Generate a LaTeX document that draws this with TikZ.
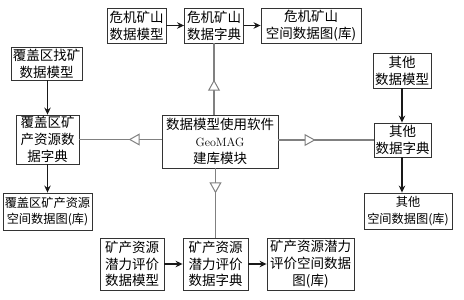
\documentclass[tikz,border=0pt]{standalone}
\usepackage{fontspec}
\newfontfamily\cjk{Noto Sans CJK SC}
\usetikzlibrary{arrows.meta,decorations.markings}
\tikzset{
  box/.style={draw=black!80, line width=0.9pt, inner sep=0pt, align=center,
    font=\cjk\fontsize{13.5}{16.8}\selectfont},
  smallbox/.style={box, font=\cjk\fontsize{12.2}{16.8}\selectfont},
  flow/.style={-{Stealth[length=7pt,width=6.5pt]}, line width=1.1pt, black!90},
  link/.style={draw=black!50, line width=1.5pt, postaction={decorate},
    decoration={markings, mark=at position #1 with
      {\arrow{Triangle[length=11pt,width=12pt,line width=1pt,fill=white,color=black!50]}}}}
}
\begin{document}
\begin{tikzpicture}[x=1pt,y=-1pt]
\useasboundingbox (0,0) rectangle (464,300);
% top row
\node[box, minimum width=59, minimum height=35] (a1) at (136.5,25.5) {危机矿山\\数据模型};
\node[box, minimum width=59, minimum height=35] (a2) at (214,25.5) {危机矿山\\数据字典};
\node[box, minimum width=100, minimum height=35] (a3) at (311,25.5) {危机矿山\\空间数据图(库)};
% left column
\node[box, minimum width=71, minimum height=33] (b1) at (46.5,63.5) {覆盖区找矿\\数据模型};
\node[box, minimum width=63, minimum height=49] (b2) at (47.5,139.5) {覆盖区矿\\产资源数\\据字典};
\node[smallbox, minimum width=89, minimum height=37] (b3) at (47.5,211.5) {覆盖区矿产资源\\空间数据图(库)};
% center
\node[box, minimum width=116, minimum height=53] (c) at (220,141.5)
  {数据模型使用软件\\{\rmfamily\fontsize{12}{16.8}\selectfont GeoMAG}\\建库模块};
% right column
\node[box, minimum width=58, minimum height=35] (d1) at (402,70.5) {其他\\数据模型};
\node[box, minimum width=57, minimum height=34] (d2) at (402.5,140) {其他\\数据字典};
\node[smallbox, minimum width=88, minimum height=36] (d3) at (408,211) {其他\\空间数据图(库)};
% bottom row
\node[box, minimum width=64, minimum height=52] (e1) at (132,264) {矿产资源\\潜力评价\\数据模型};
\node[box, minimum width=65, minimum height=52] (e2) at (215.5,264) {矿产资源\\潜力评价\\数据字典};
\node[box, minimum width=87, minimum height=52] (e3) at (310.5,264) {矿产资源潜力\\评价空间数据\\图(库)};
% black flow arrows
\draw[flow] (a1) -- (a2);
\draw[flow] (a2) -- (a3);
\draw[flow] (b1.south -| b2.north) -- (b2.north);
\draw[flow] (b2) -- (b3.north -| b2.south);
\draw[flow] (d1) -- (d1 |- d2.north);
\draw[flow] (d2.south -| d1.south) -- (d3.north -| d1.south);
\draw[flow] (e1) -- (e2);
\draw[flow] (e2) -- (e3);
% gray links from center
\draw[link=0.49] (c.north -| a2.south) -- (a2.south);
\draw[link=0.40] (c.west |- b2.east) -- (b2.east);
\draw[link=0.39] (c.east |- d2.west) -- (d2.west);
\draw[link=0.36] (c.south -| e2.north) -- (e2.north);
\end{tikzpicture}
\end{document}
